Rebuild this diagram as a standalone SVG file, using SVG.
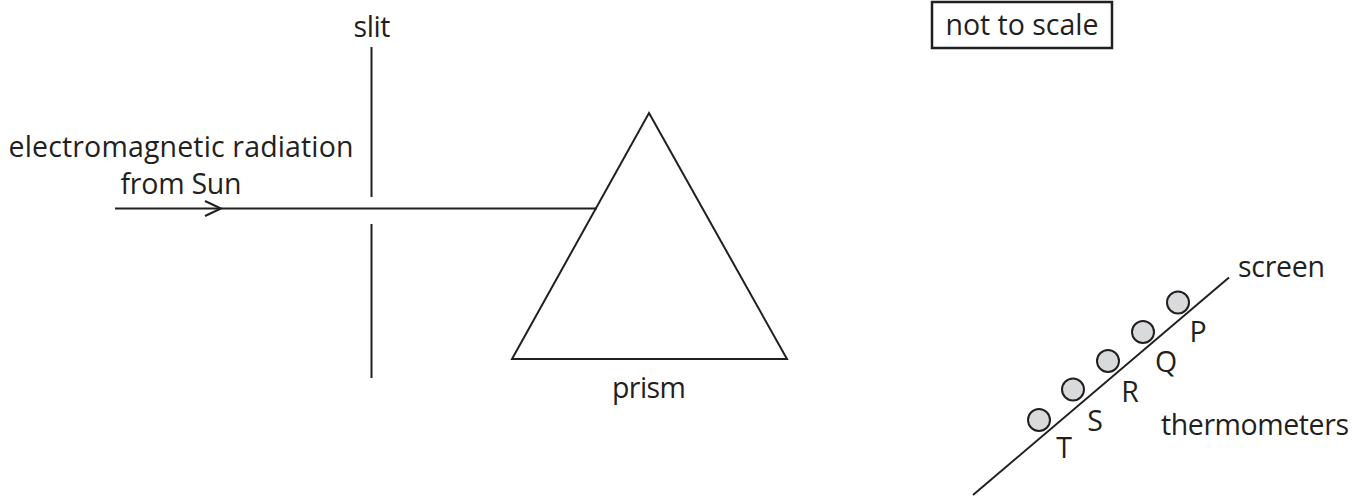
<svg xmlns="http://www.w3.org/2000/svg" width="1368" height="497" viewBox="0 0 1368 497">
<style>
.l{fill:none;stroke:#231f20;stroke-width:2}
.t{font-family:"Open Sans","Noto Sans",sans-serif;font-size:28.5px;fill:#231f20}
.m{text-anchor:middle}
.b{fill:#d9dadb;stroke:#231f20;stroke-width:2}
</style>
<rect width="1368" height="497" fill="#fff"/>
<g id="connectors">
<path class="l" d="M115 208.500H597"/>
<path class="l" d="M205 201L221 208.500L205 216"/>
</g>
<g id="slit"><path class="l" d="M371.500 47V197M371.500 224V378"/><text class="t m" x="372" y="37" textLength="37">slit</text></g>
<g id="prism"><path class="l" d="M649 113L787 359H512Z"/><text class="t m" x="649" y="398" textLength="74">prism</text></g>
<g id="source-label"><text class="t m" x="181" y="157" textLength="345">electromagnetic radiation</text><text class="t m" x="181" y="194" textLength="121">from Sun</text></g>
<g id="note"><rect x="932" y="2" width="180" height="46" fill="none" stroke="#231f20" stroke-width="2.500"/><text class="t m" x="1022" y="35" textLength="153">not to scale</text></g>
<g id="screen"><path class="l" d="M973 495L1229 277.500"/><text class="t" x="1238" y="277" textLength="87">screen</text></g>
<g id="thermometer-P"><circle class="b" cx="1178" cy="302.500" r="11"/><text class="t m" x="1198" y="342">P</text></g>
<g id="thermometer-Q"><circle class="b" cx="1143" cy="332" r="11"/><text class="t m" x="1166" y="372">Q</text></g>
<g id="thermometer-R"><circle class="b" cx="1108" cy="361" r="11"/><text class="t m" x="1130" y="402">R</text></g>
<g id="thermometer-S"><circle class="b" cx="1073" cy="389.500" r="11"/><text class="t m" x="1095" y="431">S</text></g>
<g id="thermometer-T"><circle class="b" cx="1039" cy="420" r="11"/><text class="t m" x="1064" y="458">T</text></g>
<text class="t" id="thermometers-label" x="1161" y="435" textLength="188">thermometers</text>
</svg>
